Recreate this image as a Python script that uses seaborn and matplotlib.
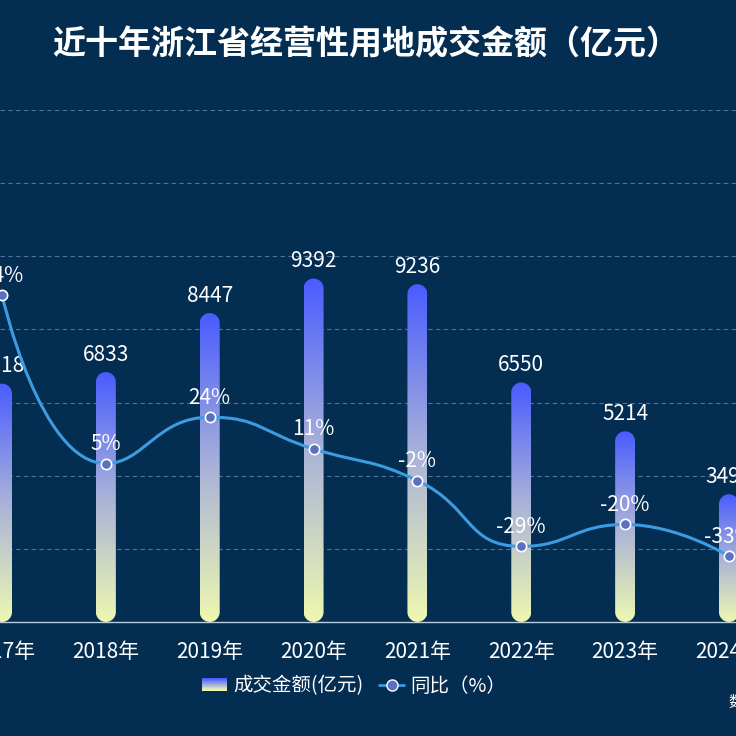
import numpy as np
import pandas as pd
import seaborn as sns
import matplotlib.pyplot as plt
from matplotlib.patches import Rectangle, PathPatch
from matplotlib.path import Path
from matplotlib.transforms import IdentityTransform
from matplotlib.colors import LinearSegmentedColormap
from matplotlib.legend_handler import HandlerBase
from matplotlib.lines import Line2D

# data (2017 and 2024 are cut by the frame)
years = ['2017年', '2018年', '2019年', '2020年', '2021年', '2022年', '2023年', '2024年']
amount = [6518, 6833, 8447, 9392, 9236, 6550, 5214, 3493]
yoy = [74, 5, 24, 11, -2, -29, -20, -33]

bg = '#042d52'
bar_cmap = LinearSegmentedColormap.from_list('bar', ['#eef8b0', '#a9b2d8', '#4a5cff'])

sns.set_theme(style='dark', rc={'axes.facecolor': bg, 'figure.facecolor': bg})
plt.rcParams['font.family'] = ['Noto Sans CJK SC', 'DejaVu Sans']

fig = plt.figure(figsize=(7.36, 7.36), dpi=100, facecolor=bg)
ax = fig.add_axes([0, 114 / 736, 1, 512 / 736])
ax.set_facecolor(bg)

df = pd.DataFrame({'year': years, 'amount': amount, 'yoy': yoy})
px_unit = 727 / 7
xmin = -2 / px_unit
xmax = xmin + 736 / px_unit

sns.barplot(data=df, x='year', y='amount', ax=ax, width=20 / px_unit, color='#4a5cff')
ax.set_xlim(xmin, xmax)
ax.set_ylim(0, 14000)
ax.set_autoscale_on(False)


def stadium(x0, y0, x1, y1):
    # pill shape in pixels: half circles at both ends
    r = (x1 - x0) / 2
    cx = (x0 + x1) / 2
    top = np.linspace(0, np.pi, 40)
    bot = np.linspace(np.pi, 2 * np.pi, 40)
    pts = [(cx + r * np.cos(t), y1 - r + r * np.sin(t)) for t in top]
    pts += [(cx + r * np.cos(t), y0 + r + r * np.sin(t)) for t in bot]
    pts.append(pts[0])
    return Path(pts, closed=True)


# swap the plain bars for rounded gradient ones
for p in list(ax.patches):
    x0, w, h = p.get_x(), p.get_width(), p.get_height()
    p.set_visible(False)
    (dx0, dy0), (dx1, dy1) = ax.transData.transform([(x0, 0), (x0 + w, h)])
    clip = PathPatch(stadium(dx0, dy0, dx1, dy1), transform=IdentityTransform())
    grad = np.linspace(0, 1, 256).reshape(-1, 1)
    im = ax.imshow(grad, extent=[x0, x0 + w, 0, h], origin='lower', aspect='auto',
                   cmap=bar_cmap, zorder=2)
    im.set_clip_path(clip)
    ax.annotate(f'{h:.0f}', (x0 + w / 2, h), xytext=(0, 12.5), textcoords='offset points',
                ha='center', va='center', color='white', fontsize=15, zorder=6)

ax.set_xlim(xmin, xmax)
ax.set_ylim(0, 14000)
ax.set_yticks(np.arange(0, 14001, 2000))
ax.yaxis.grid(True, linestyle=(0, (4, 3)), color='#4d7599', linewidth=0.8)
ax.xaxis.grid(False)
ax.set_axisbelow(True)
ax.tick_params(axis='y', left=False, labelleft=False)
ax.tick_params(axis='x', bottom=False, colors='white', labelsize=15, pad=8)
for s in ['left', 'right', 'top']:
    ax.spines[s].set_visible(False)
ax.spines['bottom'].set_color('#b9cde0')
ax.spines['bottom'].set_linewidth(1)
ax.set_xlabel('')
ax.set_ylabel('')

# year-on-year line on a second axis
ax2 = ax.twinx()
ax2.set_ylim(-60, 150)
ax2.set_xlim(xmin, xmax)


def echarts_smooth(pts, smooth=0.5):
    verts = [tuple(pts[0])]
    codes = [Path.MOVETO]
    cp0 = tuple(pts[0])
    n = len(pts)
    for i in range(1, n):
        x, y = pts[i]
        px, py = pts[i - 1]
        if i == n - 1:
            cp1 = (x, y)
            ncp0 = None
        else:
            nx, ny = pts[i + 1]
            vx, vy = nx - px, ny - py
            l0 = np.hypot(x - px, y - py)
            l1 = np.hypot(nx - x, ny - y)
            r = l1 / (l0 + l1)
            ncx = x + vx * smooth * r
            ncy = y + vy * smooth * r
            ncx = max(min(ncx, max(nx, x)), min(nx, x))
            ncy = max(min(ncy, max(ny, y)), min(ny, y))
            vx, vy = ncx - x, ncy - y
            c1x = x - vx * l0 / l1
            c1y = y - vy * l0 / l1
            c1x = max(min(c1x, max(px, x)), min(px, x))
            c1y = max(min(c1y, max(py, y)), min(py, y))
            vx, vy = x - c1x, y - c1y
            ncp0 = (x + vx * l1 / l0, y + vy * l1 / l0)
            cp1 = (c1x, c1y)
        verts += [cp0, cp1, (x, y)]
        codes += [Path.CURVE4] * 3
        cp0 = ncp0
    return verts, codes


xs = np.arange(len(years))
disp = ax2.transData.transform(np.column_stack([xs, yoy]))
verts, codes = echarts_smooth(disp)
data_verts = ax2.transData.inverted().transform(np.array(verts))
ax2.add_patch(PathPatch(Path(data_verts, codes), fill=False, edgecolor='#3d9be0',
                        linewidth=2.2, zorder=3))

sns.scatterplot(x=xs, y=yoy, ax=ax2, s=55, color='#5b70c0', edgecolor='white',
                linewidth=1.2, zorder=5, legend=False)
for xi, v in zip(xs, yoy):
    ax2.annotate(f'{v}%', (xi, v), xytext=(0, 14), textcoords='offset points',
                 ha='center', va='center', color='white', fontsize=15, zorder=6)

ax2.set_xlim(xmin, xmax)
ax2.set_ylim(-60, 150)
ax2.tick_params(axis='y', right=False, labelright=False)
ax2.grid(False)
for s in ax2.spines.values():
    s.set_visible(False)
ax2.set_ylabel('')

fig.text(366 / 736, 1 - 45 / 736, '近十年浙江省经营性用地成交金额（亿元）', ha='center', va='center',
         color='white', fontsize=23.8, fontweight='bold')


class GradHandler(HandlerBase):
    def create_artists(self, legend, orig_handle, xdescent, ydescent, width, height, fontsize, trans):
        n = 14
        arts = []
        for k in range(n):
            arts.append(Rectangle((-xdescent, -ydescent + height * k / n), width, height / n * 1.05,
                                  facecolor=bar_cmap(k / (n - 1)), edgecolor='none', transform=trans))
        return arts


bar_handle = Rectangle((0, 0), 1, 1)
line_handle = Line2D([], [], color='#3d9be0', linewidth=2, marker='o', markersize=8,
                     markerfacecolor='#5b70c0', markeredgecolor='white', markeredgewidth=1)
fig.legend([bar_handle, line_handle], ['成交金额(亿元)', '同比（%）'],
           handler_map={Rectangle: GradHandler()}, loc='center',
           bbox_to_anchor=(354 / 736, 1 - 686 / 736), ncol=2, frameon=False,
           labelcolor='white', fontsize=14, handlelength=1.3, handleheight=0.65,
           handletextpad=0.3, columnspacing=0.8)

fig.text(728 / 736, 1 - 702 / 736, '数据来源', ha='left', va='center', color='white', fontsize=11)

fig.savefig('out.png', dpi=100, facecolor=bg)
